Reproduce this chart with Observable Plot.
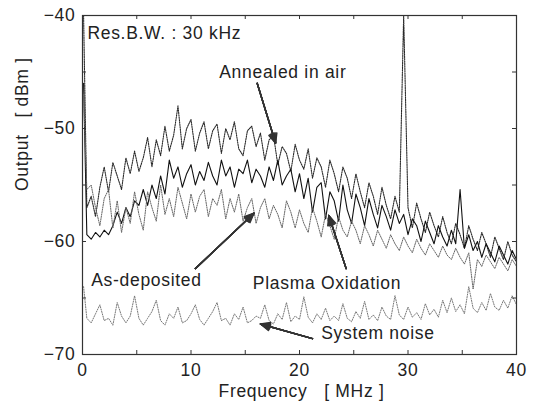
<!DOCTYPE html>
<html><head><meta charset="utf-8">
<script src="https://cdn.jsdelivr.net/npm/d3@7"></script>
<script src="https://cdn.jsdelivr.net/npm/@observablehq/plot@0.6"></script>
<style>
body{margin:0;background:#fff}
#chart svg{font-family:"Liberation Sans",Arial,sans-serif}
#chart svg text{letter-spacing:0.7px}
</style>
</head><body><div id="chart"></div>
<script>
// Frequency grid (MHz)
const freq = [0.1,
  0.4,0.8,1.2,1.6,2.0,2.4,2.8,3.2,3.6,4.0,
  4.4,4.8,5.2,5.6,6.0,6.4,6.8,7.2,7.6,8.0,
  8.4,8.8,9.2,9.6,10.0,10.4,10.8,11.2,11.6,12.0,
  12.4,12.8,13.2,13.6,14.0,14.4,14.8,15.2,15.6,16.0,
  16.4,16.8,17.2,17.6,18.0,18.4,18.8,19.2,19.6,20.0,
  20.4,20.8,21.2,21.6,22.0,22.4,22.8,23.2,23.6,24.0,
  24.4,24.8,25.2,25.6,26.0,26.4,26.8,27.2,27.6,28.0,
  28.4,28.8,29.2,29.6,30.0,30.4,30.8,31.2,31.6,32.0,
  32.4,32.8,33.2,33.6,34.0,34.4,34.8,35.2,35.6,36.0,
  36.4,36.8,37.2,37.6,38.0,38.4,38.8,39.2,39.6,40.0];

// Output (dBm)
const annealedInAir = [-40,
  -57.0,-56.0,-57.8,-55.2,-53.4,-55.6,-53.0,-54.2,-55.4,-52.6,
  -54.0,-52.0,-53.8,-52.6,-50.8,-53.4,-51.0,-52.4,-49.8,-52.0,
  -50.6,-48.0,-51.8,-50.0,-49.2,-52.0,-50.4,-49.4,-51.8,-50.2,
  -49.6,-52.2,-50.0,-51.0,-49.4,-51.8,-52.4,-50.2,-49.8,-51.6,
  -50.4,-52.8,-51.0,-50.6,-53.2,-51.6,-52.2,-53.8,-51.4,-52.8,
  -53.6,-51.8,-54.4,-52.6,-53.4,-55.2,-52.8,-54.0,-55.6,-53.4,
  -54.4,-56.2,-54.0,-55.6,-57.0,-54.8,-56.0,-57.6,-55.2,-56.8,
  -58.0,-56.0,-57.4,-40.0,-57.0,-58.8,-56.6,-58.0,-59.2,-57.4,
  -58.6,-59.6,-57.8,-59.2,-60.2,-58.4,-59.4,-60.6,-58.6,-59.8,
  -60.8,-59.2,-60.2,-61.4,-59.6,-60.6,-61.6,-60.0,-61.2,-61.8];

const plasmaOxidation = [-46,
  -59.4,-59.8,-59.2,-59.6,-59.0,-59.4,-58.6,-57.4,-58.4,-57.0,
  -57.8,-56.4,-56.8,-55.4,-56.8,-55.0,-56.2,-54.2,-55.8,-52.8,
  -54.4,-53.4,-55.2,-54.0,-53.2,-55.0,-53.8,-54.6,-53.0,-54.2,
  -55.0,-52.8,-54.2,-53.4,-55.2,-53.6,-54.0,-52.8,-54.8,-53.6,
  -54.2,-55.2,-53.4,-54.6,-52.8,-55.0,-54.2,-53.6,-55.6,-54.0,
  -56.2,-54.4,-57.4,-55.2,-54.8,-58.0,-55.6,-56.4,-58.2,-55.0,
  -57.2,-58.4,-55.8,-57.0,-58.6,-56.2,-57.6,-58.8,-56.8,-57.8,
  -59.0,-57.2,-58.4,-57.6,-59.4,-58.0,-58.6,-60.0,-58.2,-59.2,
  -60.2,-58.6,-59.6,-60.4,-59.0,-60.2,-55.4,-60.6,-59.4,-60.8,
  -60.0,-61.4,-60.2,-61.0,-61.8,-60.4,-61.2,-62.0,-60.8,-61.6];

const asDeposited = [-47,
  -55.4,-55.0,-57.0,-58.6,-56.2,-55.4,-58.8,-56.4,-59.2,-57.0,
  -58.4,-55.6,-57.6,-59.0,-55.6,-57.0,-58.2,-55.0,-57.6,-56.2,
  -57.8,-55.2,-56.6,-58.0,-55.8,-57.4,-56.0,-55.4,-57.8,-56.2,
  -56.8,-55.4,-58.0,-56.2,-57.4,-55.8,-58.2,-57.0,-56.2,-58.4,
  -57.0,-56.2,-58.0,-56.8,-57.6,-58.8,-56.4,-57.4,-58.8,-57.2,
  -58.4,-59.2,-57.0,-58.2,-59.6,-57.6,-58.6,-59.8,-57.8,-59.0,
  -59.6,-58.2,-59.0,-60.2,-58.6,-59.4,-60.4,-59.0,-59.8,-60.6,
  -59.4,-60.2,-60.8,-59.6,-60.4,-61.0,-59.8,-60.6,-61.2,-60.2,
  -60.8,-61.4,-60.4,-61.2,-61.6,-60.6,-61.4,-62.0,-61.0,-64.2,
  -61.6,-62.2,-61.2,-61.8,-62.4,-61.4,-62.0,-62.6,-61.6,-62.2];

const systemNoise = [-64,
  -66.8,-67.2,-66.4,-65.6,-67.0,-66.8,-67.4,-65.4,-66.6,-67.2,
  -66.6,-64.8,-66.8,-67.4,-66.8,-66.2,-65.2,-67.0,-67.4,-66.4,
  -66.8,-65.8,-67.2,-67.0,-66.4,-65.6,-66.9,-67.4,-66.8,-66.2,
  -65.4,-67.0,-66.8,-67.4,-66.4,-66.9,-65.8,-67.2,-67.0,-66.6,
  -66.8,-65.6,-67.0,-67.3,-66.4,-66.9,-65.4,-67.1,-66.6,-66.9,
  -64.9,-66.7,-67.2,-66.4,-66.9,-65.9,-67.0,-66.6,-67.0,-65.5,
  -66.8,-67.1,-66.2,-66.8,-65.3,-66.9,-66.5,-67.0,-65.8,-66.6,
  -66.9,-64.8,-66.5,-66.9,-65.8,-66.7,-66.3,-66.9,-65.5,-66.5,
  -66.0,-66.7,-65.2,-66.3,-65.0,-66.2,-65.6,-66.4,-64.0,-65.9,
  -66.3,-65.4,-66.1,-64.6,-65.8,-66.1,-65.2,-65.9,-64.8,-65.6];

const seriesNames = ["Annealed in air", "Plasma Oxidation", "As-deposited", "System noise"];
const xTickLabels = [0, 10, 20, 30, 40];
const yTickLabels = [-70, -60, -50, -40];
const xMinorTicks = [0, 5, 10, 15, 20, 25, 30, 35, 40];
const yMinorTicks = [-70, -65, -60, -55, -50, -45, -40];
const xLabel = "Frequency   [ MHz ]";
const yLabel = "Output   [ dBm ]";
const noteText = "Res.B.W. : 30 kHz";

// annotation anchors in data units (MHz, dBm)
const labels = [
  {text: noteText, x: 0.45, y: -41.6},
  {text: "Annealed in air", x: 12.6, y: -45.0},
  {text: "As-deposited", x: 0.8, y: -63.4},
  {text: "Plasma Oxidation", x: 15.7, y: -63.7},
  {text: "System noise", x: 22.0, y: -68.1}
];
const pointers = [
  {x1: 16.1, y1: -46.0, x2: 17.8, y2: -51.3},
  {x1: 10.4, y1: -62.4, x2: 15.8, y2: -57.5},
  {x1: 24.3, y1: -62.4, x2: 22.7, y2: -57.7},
  {x1: 21.2, y1: -68.6, x2: 16.4, y2: -67.3}
];

const valuesBySeries = [annealedInAir, plasmaOxidation, asDeposited, systemNoise];
const styles = {
  "Annealed in air": {stroke: "#2a2a2a", dash: "1.3 1.1", w: 1.1},
  "Plasma Oxidation": {stroke: "#111", dash: null, w: 1.1},
  "As-deposited": {stroke: "#666", dash: "1.2 1.2", w: 1.0},
  "System noise": {stroke: "#777", dash: "1.1 1.4", w: 1.0}
};

const W = 533, H = 408, mL = 82, mR = 17, mT = 15, mB = 54;
const pw = W - mL - mR, ph = H - mT - mB, tk = 4;

const lineMarks = seriesNames.map((name, s) => {
  const rows = freq.map((f, i) => ({f, v: valuesBySeries[s][i]}));
  const st = styles[name];
  return Plot.line(rows, {x: "f", y: "v", stroke: st.stroke, strokeWidth: st.w,
    strokeDasharray: st.dash, clip: true});
});

const arrowMarks = [48, 38, 28, 18, 8, 2].map(a =>
  Plot.arrow(pointers, {x1: "x1", y1: "y1", x2: "x2", y2: "y2",
    headLength: 11, headAngle: a, stroke: "#333", strokeWidth: 1.4}));

const chart = Plot.plot({
  width: W, height: H,
  marginLeft: mL, marginRight: mR, marginTop: mT, marginBottom: mB,
  x: {domain: [0, 40]},
  y: {domain: [-70, -40]},
  style: {background: "#fff", color: "#222", fontSize: "17.5px", fontFamily: "Liberation Sans, Arial, sans-serif"},
  marks: [
    ...lineMarks,
    Plot.frame({stroke: "#333", strokeWidth: 1.2}),
    Plot.tickX(xMinorTicks, {x: d => d, insetTop: ph - tk, stroke: "#333"}),
    Plot.tickX(xMinorTicks, {x: d => d, insetBottom: ph - tk, stroke: "#333"}),
    Plot.tickY(yMinorTicks, {y: d => d, insetRight: pw - tk, stroke: "#333"}),
    Plot.tickY(yMinorTicks, {y: d => d, insetLeft: pw - tk, stroke: "#333"}),
    Plot.axisX(xTickLabels, {tickSize: 0, tickPadding: 9, label: null}),
    Plot.axisY(yTickLabels, {tickSize: 0, tickPadding: 7, label: null}),
    Plot.text([yLabel], {frameAnchor: "left", dx: -60, dy: 6, rotate: -90, text: d => d}),
    Plot.text([xLabel], {frameAnchor: "bottom", dx: 2, dy: 42, text: d => d}),
    Plot.text(labels, {x: "x", y: "y", text: "text", textAnchor: "start", fill: "#222"}),
    ...arrowMarks
  ]
});
document.getElementById("chart").append(chart);
</script>
</body></html>
